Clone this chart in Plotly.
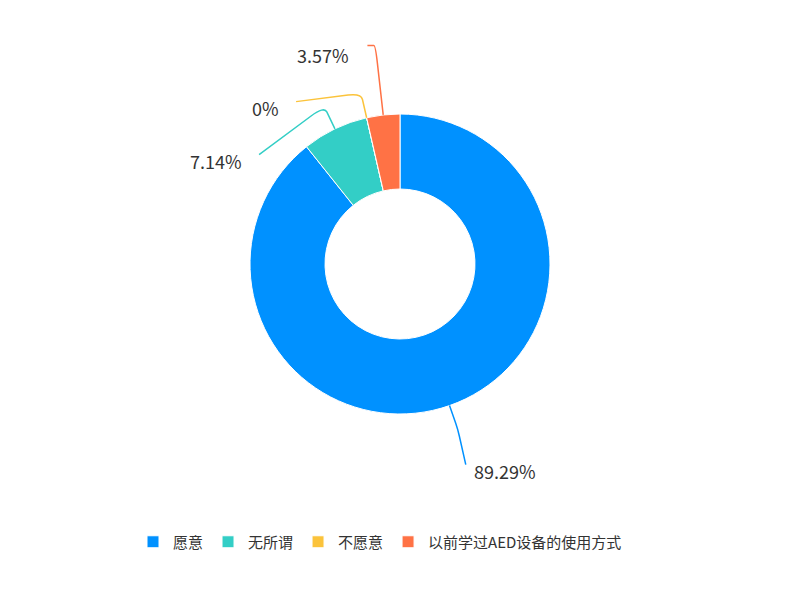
import math
import plotly.graph_objects as go

labels = ['愿意', '无所谓', '不愿意', '以前学过AED设备的使用方式']
percents = [89.29, 7.14, 0, 3.57]
colors = ['#0091ff', '#33cec6', '#fbc33b', '#ff7245']

W, H = 800, 600
OFF = 8                      # body margin of the html page
cx, cy, r = 400, 264, 150    # pie centre / radius in screen pixels


def px(x, y):
    return (x - OFF) / W, 1 - (y - OFF) / H


d0, d1 = px(cx - r, cy + r), px(cx + r, cy - r)
fig = go.Figure(go.Pie(
    labels=labels, values=percents, hole=0.5, sort=False,
    direction='clockwise', rotation=0, textinfo='none',
    marker=dict(colors=colors, line=dict(color='white', width=1)),
    domain=dict(x=[d0[0], d1[0]], y=[d0[1], d1[1]]),
    hovertemplate='%{label}: %{value}%<extra></extra>',
))

# leader lines + labels, echarts style
total = sum(percents)
acc = 0
items = []
for lab, v, col in zip(labels, percents, colors):
    mid = (acc + v / 2) / total * 2 * math.pi
    acc += v
    s, c = math.sin(mid), math.cos(mid)
    items.append(dict(s=s, c=c, col=col, txt=('%g' % v) + '%', left=s < 0))

shapes, annotations = [], []
for side in (True, False):
    grp = [it for it in items if it['left'] == side]
    for it in grp:
        it['p1'] = (cx + (r + 25) * it['s'], cy - (r + 25) * it['c'])
    grp.sort(key=lambda it: -it['p1'][1])
    prev = None
    for it in grp:
        s, c = it['s'], it['c']
        p0 = (cx + r * s, cy - r * c)
        p1 = it['p1']
        natural = p1[1] + 48 + 7 * c
        y = natural if prev is None else min(natural, prev - 53)
        prev = y
        if natural - y > 60:
            # label pushed far up: line runs straight up past the label, small hook
            p1 = (cx + (cy - (y - 9)) / c * s, y - 9)
            end = (p1[0] - 8 if side else p1[0] + 8, p1[1])
            lab_x = end[0] - 16 if side else end[0] + 16
        else:
            end = (p1[0] - 65 if side else p1[0] + 8, y - 6)
            lab_x = end[0] - 15 if side else end[0] + 6
        # straight segments with a rounded corner at p1
        a = (p1[0] + 0.25 * (p0[0] - p1[0]), p1[1] + 0.25 * (p0[1] - p1[1]))
        b = (p1[0] + 0.2 * (end[0] - p1[0]), p1[1] + 0.2 * (end[1] - p1[1]))
        pts = [px(*q) for q in (p0, a, p1, b, end)]
        path = 'M %f,%f L %f,%f Q %f,%f %f,%f L %f,%f' % tuple(v for q in pts for v in q)
        shapes.append(dict(type='path', xref='paper', yref='paper', path=path,
                           line=dict(color=it['col'], width=1.5)))
        tx = px(lab_x, y)
        annotations.append(dict(x=tx[0], y=tx[1], xref='paper', yref='paper', text=it['txt'],
                                showarrow=False, xanchor='right' if side else 'left', yanchor='middle',
                                font=dict(size=18, color='#333333')))

lx, ly = px(380, 542)
fig.update_layout(
    width=W, height=H, margin=dict(l=0, r=0, t=0, b=0),
    paper_bgcolor='white', plot_bgcolor='white',
    font=dict(family='Noto Sans CJK SC', color='#333333'),
    shapes=shapes, annotations=annotations,
    legend=dict(orientation='h', x=lx, xanchor='center', y=ly, yanchor='middle',
                font=dict(size=15, color='#333333'), itemwidth=30, traceorder='normal'),
)

fig.write_html('out.html')
